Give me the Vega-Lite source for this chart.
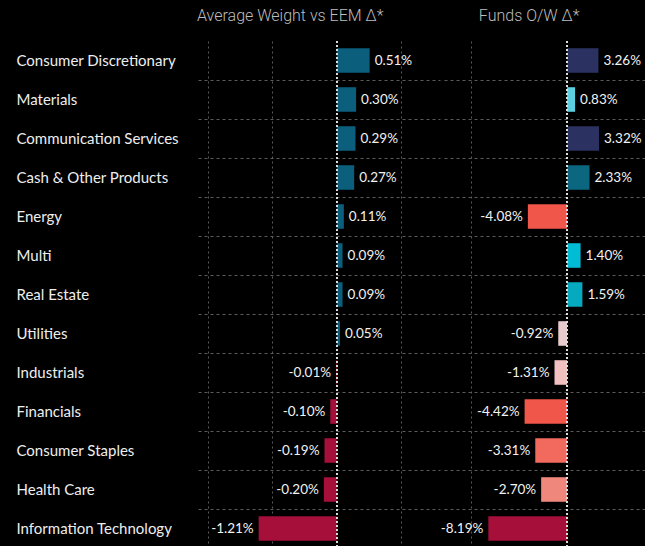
{
  "$schema": "https://vega.github.io/schema/vega-lite/v6.json",
  "background": "#000000",
  "padding": {"left": 0, "top": 7, "right": 0, "bottom": 0},
  "spacing": 0,
  "resolve": {"scale": {"color": "independent"}},
  "config": {
    "view": {"stroke": null},
    "font": "Lato",
    "title": {"fontSize": 16, "fontWeight": 300, "color": "#bdbdbd", "font": "Roboto", "anchor": "start"}
  },
  "data": {
    "values": [
      {"sector": "Consumer Discretionary", "a": 0.51, "f": 3.26},
      {"sector": "Materials", "a": 0.30, "f": 0.83},
      {"sector": "Communication Services", "a": 0.29, "f": 3.32},
      {"sector": "Cash & Other Products", "a": 0.27, "f": 2.33},
      {"sector": "Energy", "a": 0.11, "f": -4.08},
      {"sector": "Multi", "a": 0.09, "f": 1.40},
      {"sector": "Real Estate", "a": 0.09, "f": 1.59},
      {"sector": "Utilities", "a": 0.05, "f": -0.92},
      {"sector": "Industrials", "a": -0.01, "f": -1.31},
      {"sector": "Financials", "a": -0.10, "f": -4.42},
      {"sector": "Consumer Staples", "a": -0.19, "f": -3.31},
      {"sector": "Health Care", "a": -0.20, "f": -2.70},
      {"sector": "Information Technology", "a": -1.21, "f": -8.19}
    ]
  },
  "transform": [
    {"calculate": "replace(format(datum.a, '.2f'), '−', '-') + '%'", "as": "la"},
    {"calculate": "replace(format(datum.f, '.2f'), '−', '-') + '%'", "as": "lf"}
  ],
  "hconcat": [
    {
      "width": 242,
      "height": 507,
      "title": {"text": "Average Weight vs EEM Δ*", "dx": 197, "offset": 17},
      "layer": [
        {
          "mark": {"type": "bar", "height": {"band": 0.63}},
          "encoding": {
            "y": {
              "field": "sector", "type": "nominal",
              "sort": ["Consumer Discretionary", "Materials", "Communication Services", "Cash & Other Products", "Energy", "Multi", "Real Estate", "Utilities", "Industrials", "Financials", "Consumer Staples", "Health Care", "Information Technology"],
              "scale": {"paddingInner": 0, "paddingOuter": 0},
              "axis": {
                "title": null, "labelAlign": "left", "labelPadding": 182,
                "ticks": false, "domain": false, "grid": true, "gridDash": [3, 3], "gridColor": "#5a5a5a",
                "bandPosition": 1, "labelFontSize": 15, "labelColor": "#eeeeee", "labelFont": "Lato",
                "minExtent": 198, "maxExtent": 198, "labelLimit": 200
              }
            },
            "x": {
              "field": "a", "type": "quantitative",
              "scale": {"domain": [-2.15, 1.6], "nice": false, "zero": false},
              "axis": {"orient": "top", "title": null, "labels": false, "ticks": false, "domain": false, "grid": true, "gridDash": [2, 3], "gridColor": "#5a5a5a", "values": [-2, -1, 1], "minExtent": 0, "maxExtent": 0}
            },
            "color": {
              "field": "a", "type": "quantitative",
              "scale": {"type": "threshold", "domain": [0], "range": ["#a50f3a", "#0b5e7c"]},
              "legend": null
            }
          }
        },
        {
          "mark": {"type": "rule", "color": "#dddddd", "strokeDash": [2, 2], "strokeWidth": 1},
          "encoding": {"x": {"datum": 0}}
        },
        {
          "mark": {"type": "text", "fontSize": 13.5, "color": "#f2f2f2", "font": "Lato",
                   "align": {"expr": "datum.a < 0 ? 'right' : 'left'"},
                   "dx": {"expr": "datum.a < 0 ? -5 : 5"}},
          "encoding": {
            "y": {"field": "sector", "type": "nominal", "sort": ["Consumer Discretionary", "Materials", "Communication Services", "Cash & Other Products", "Energy", "Multi", "Real Estate", "Utilities", "Industrials", "Financials", "Consumer Staples", "Health Care", "Information Technology"]},
            "x": {"field": "a", "type": "quantitative"},
            "text": {"field": "la"}
          }
        }
      ]
    },
    {
      "width": 201,
      "height": 507,
      "title": {"text": "Funds O/W Δ*", "dx": 38, "offset": 17},
      "layer": [
        {
          "mark": {"type": "bar", "height": {"band": 0.63}},
          "encoding": {
            "y": {
              "field": "sector", "type": "nominal",
              "sort": ["Consumer Discretionary", "Materials", "Communication Services", "Cash & Other Products", "Energy", "Multi", "Real Estate", "Utilities", "Industrials", "Financials", "Consumer Staples", "Health Care", "Information Technology"],
              "scale": {"paddingInner": 0, "paddingOuter": 0},
              "axis": {
                "title": null, "labels": false, "ticks": false, "domain": false, "grid": true,
                "gridDash": [3, 3], "gridColor": "#5a5a5a", "bandPosition": 1, "minExtent": 0, "maxExtent": 0
              }
            },
            "x": {
              "field": "f", "type": "quantitative",
              "scale": {"domain": [-12.8, 8.1], "nice": false, "zero": false},
              "axis": {"orient": "top", "title": null, "labels": false, "ticks": false, "domain": false, "grid": true, "gridDash": [2, 3], "gridColor": "#5a5a5a", "values": [-10], "minExtent": 0, "maxExtent": 0}
            },
            "color": {
              "field": "f", "type": "quantitative",
              "scale": {
                "type": "threshold",
                "domain": [-6, -4, -3, -2, -1, 0, 1, 1.5, 2, 3],
                "range": ["#a50f3a", "#f0564a", "#f2695d", "#f0877c", "#f2c0c0", "#e8cbcd", "#5ccfe0", "#00bcd4", "#06aac0", "#0b6680", "#2b3160"]
              },
              "legend": null
            }
          }
        },
        {
          "mark": {"type": "rule", "color": "#dddddd", "strokeDash": [2, 2], "strokeWidth": 1},
          "encoding": {"x": {"datum": 0}}
        },
        {
          "mark": {"type": "text", "fontSize": 13.5, "color": "#f2f2f2", "font": "Lato",
                   "align": {"expr": "datum.f < 0 ? 'right' : 'left'"},
                   "dx": {"expr": "datum.f < 0 ? -5 : 5"}},
          "encoding": {
            "y": {"field": "sector", "type": "nominal", "sort": ["Consumer Discretionary", "Materials", "Communication Services", "Cash & Other Products", "Energy", "Multi", "Real Estate", "Utilities", "Industrials", "Financials", "Consumer Staples", "Health Care", "Information Technology"]},
            "x": {"field": "f", "type": "quantitative"},
            "text": {"field": "lf"}
          }
        }
      ]
    }
  ]
}
